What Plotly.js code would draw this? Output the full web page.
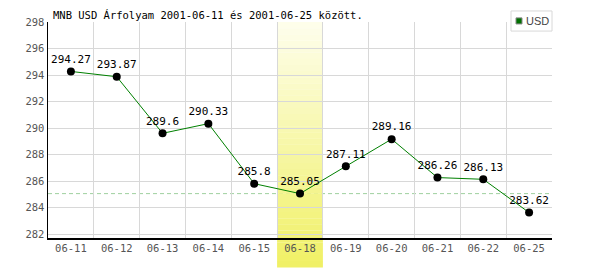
<!DOCTYPE html>
<html>
<head>
<meta charset="utf-8">
<script src="https://cdn.plot.ly/plotly-3.0.1.min.js"></script>
<style>html,body{margin:0;padding:0;background:#fff;}#chart{width:600px;height:270px;}</style>
</head>
<body>
<div id="chart"></div>
<script>
const categories = ["06-11","06-12","06-13","06-14","06-15","06-18","06-19","06-20","06-21","06-22","06-25"];
const usdValues = [294.27, 293.87, 289.6, 290.33, 285.8, 285.05, 287.11, 289.16, 286.26, 286.13, 283.62];
const highlightCategory = "06-18";
const seriesName = "USD";
const titleText = "MNB USD Árfolyam 2001-06-11 és 2001-06-25 között.";
const yTicks = [282, 284, 286, 288, 290, 292, 294, 296, 298];

const hi = categories.indexOf(highlightCategory);
const refValue = usdValues[hi];

const shapes = [];
// dashed reference line at highlighted value (under the band)
shapes.push({
  type: 'line', layer: 'between', xref: 'paper', yref: 'y',
  x0: 0, x1: 1, y0: refValue, y1: refValue,
  line: {color: '#9fd09f', width: 1, dash: '4px,3px'}
});
// vertical gradient band for highlighted day
const nStrips = 40;
const yTop = 1.0, yBot = -0.135;
const cTop = [254, 254, 236], cBot = [240, 240, 100];
for (let i = 0; i < nStrips; i++) {
  const t = (i + 0.5) / nStrips;
  const r = Math.round(cTop[0] + (cBot[0] - cTop[0]) * t);
  const g = Math.round(cTop[1] + (cBot[1] - cTop[1]) * t);
  const b = Math.round(cTop[2] + (cBot[2] - cTop[2]) * t);
  shapes.push({
    type: 'rect', layer: 'between', xref: 'x', yref: 'paper',
    x0: hi - 0.5, x1: hi + 0.5,
    y0: yTop - (yTop - yBot) * i / nStrips,
    y1: yTop - (yTop - yBot) * (i + 1) / nStrips - 0.001,
    fillcolor: `rgb(${r},${g},${b})`, line: {width: 0}
  });
}
// legend box
shapes.push({type: 'rect', xref: 'paper', yref: 'paper', x0: 0.9187, x1: 1.0, y0: 0.958, y1: 1.051,
  fillcolor: '#ffffff', line: {color: '#d8d8d8', width: 1}});
shapes.push({type: 'rect', xref: 'paper', yref: 'paper', x0: 0.9286, x1: 0.9405, y0: 0.991, y1: 1.019,
  fillcolor: '#007000', line: {color: '#888888', width: 1}});

const data = [{
  type: 'scatter', mode: 'lines+markers+text',
  x: categories, y: usdValues,
  text: usdValues.map(v => String(v)),
  textposition: 'top center',
  textfont: {family: 'DejaVu Sans Mono, monospace', size: 11, color: '#000'},
  line: {color: '#008000', width: 1},
  marker: {color: '#000', size: 8},
  cliponaxis: false,
  showlegend: false, hoverinfo: 'skip', name: seriesName
}];

const layout = {
  width: 600, height: 270,
  margin: {l: 48, r: 48, t: 22, b: 32},
  paper_bgcolor: '#fff', plot_bgcolor: '#fff',
  title: {text: titleText, x: 53/600, xanchor: 'left', xref: 'container',
    y: 1 - 15/270, yanchor: 'middle', yref: 'container',
    font: {family: 'DejaVu Sans Mono, monospace', size: 10.5, color: '#000'}},
  xaxis: {
    type: 'category', range: [-0.5, categories.length - 0.5],
    tickson: 'boundaries', ticks: '', showgrid: true, gridcolor: '#d8d8d8', gridwidth: 1,
    showline: true, linecolor: '#000', linewidth: 1.5,
    tickfont: {family: 'DejaVu Sans Mono, monospace', size: 10.5, color: '#555'},
    fixedrange: true, zeroline: false
  },
  yaxis: {
    range: [281.7, 298], tickvals: yTicks, ticktext: yTicks.map(String),
    ticks: '', showgrid: true, gridcolor: '#d8d8d8', gridwidth: 1,
    showline: true, linecolor: '#000', linewidth: 1.5,
    tickfont: {family: 'DejaVu Sans Mono, monospace', size: 10.5, color: '#555'},
    fixedrange: true, zeroline: false
  },
  shapes: shapes,
  annotations: [{
    xref: 'paper', yref: 'paper', x: 0.945, y: 1.005, xanchor: 'left', yanchor: 'middle',
    text: seriesName, showarrow: false,
    font: {family: 'Liberation Sans, Arial, sans-serif', size: 11, color: '#444'}
  }],
  showlegend: false
};

Plotly.newPlot('chart', data, layout, {displayModeBar: false, staticPlot: true});
</script>
</body>
</html>
